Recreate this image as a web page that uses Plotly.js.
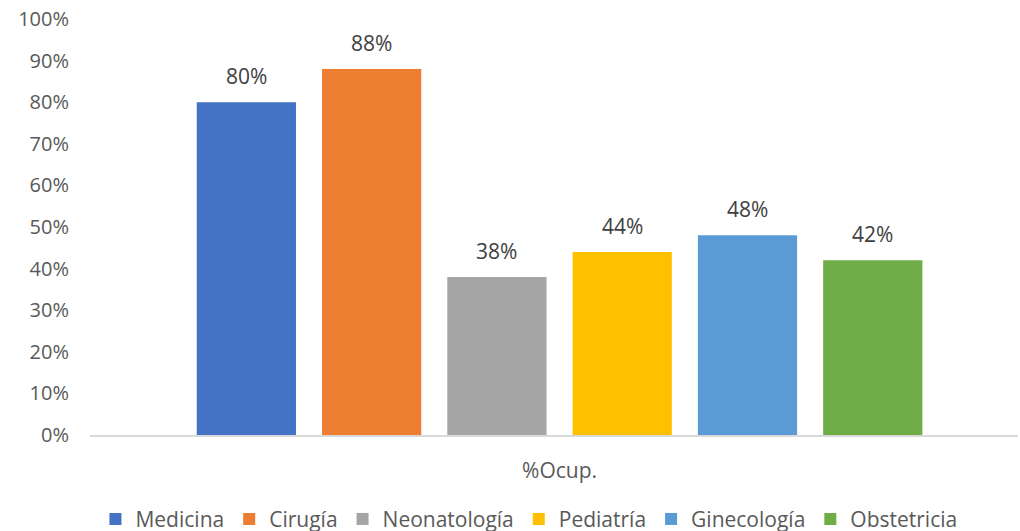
<!DOCTYPE html>
<html>
<head>
<meta charset="utf-8">
<script src="https://cdn.plot.ly/plotly-3.0.1.min.js"></script>
<style>html,body{margin:0;padding:0;background:#fff}#chart{width:1020px;height:531px}</style>
</head>
<body>
<div id="chart"></div>
<script>
const category = ['%Ocup.'];
const seriesNames = ['Medicina', 'Cirugía', 'Neonatología', 'Pediatría', 'Ginecología', 'Obstetricia'];
const seriesValues = [0.80, 0.88, 0.38, 0.44, 0.48, 0.42];
const seriesColors = ['#4472C4', '#ED7D31', '#A5A5A5', '#FFC000', '#5B9BD5', '#70AD47'];

const FONT = 'Open Sans, sans-serif';
const traces = seriesNames.map((name, i) => ({
  type: 'bar',
  name: name,
  x: category,
  y: [seriesValues[i]],
  marker: {color: seriesColors[i]},
  hoverinfo: 'skip'
}));

const layout = {
  width: 1020, height: 531,
  margin: {l: 90, r: 2, t: 19, b: 96},
  paper_bgcolor: '#fff', plot_bgcolor: '#fff',
  barmode: 'group',
  bargap: 0.19,
  bargroupgap: 0.208,
  font: {family: FONT, size: 20, color: '#595959'},
  xaxis: {
    range: [-0.506, 0.494],
    showline: true, linecolor: '#D9D9D9', linewidth: 1.5,
    ticks: '', showgrid: false, zeroline: false,
    ticklabelstandoff: 16,
    tickfont: {family: FONT, size: 21, color: '#595959'}
  },
  yaxis: {
    range: [0, 1], dtick: 0.1, tickformat: '.0%',
    showline: false, showgrid: false, zeroline: false, ticks: '',
    ticklabelstandoff: 20,
    tickfont: {family: FONT, size: 20, color: '#595959'}
  },
  showlegend: true,
  legend: {
    orientation: 'h', x: 0.473, xanchor: 'center',
    yref: 'container', y: 0.022, yanchor: 'middle',
    font: {family: FONT, size: 21, color: '#595959'},
    itemwidth: 30
  }
};

Plotly.newPlot('chart', traces, layout, {staticPlot: true}).then(gd => {
  const annotations = gd.calcdata.map((cd, i) => ({
    x: cd[0].x, y: cd[0].y !== undefined ? cd[0].y : seriesValues[i],
    xref: 'x', yref: 'y',
    text: Math.round(seriesValues[i] * 100) + '%',
    showarrow: false, yanchor: 'bottom', yshift: 10,
    font: {family: FONT, size: 21, color: '#404040'}
  }));
  return Plotly.relayout(gd, {annotations: annotations});
});
</script>
</body>
</html>
